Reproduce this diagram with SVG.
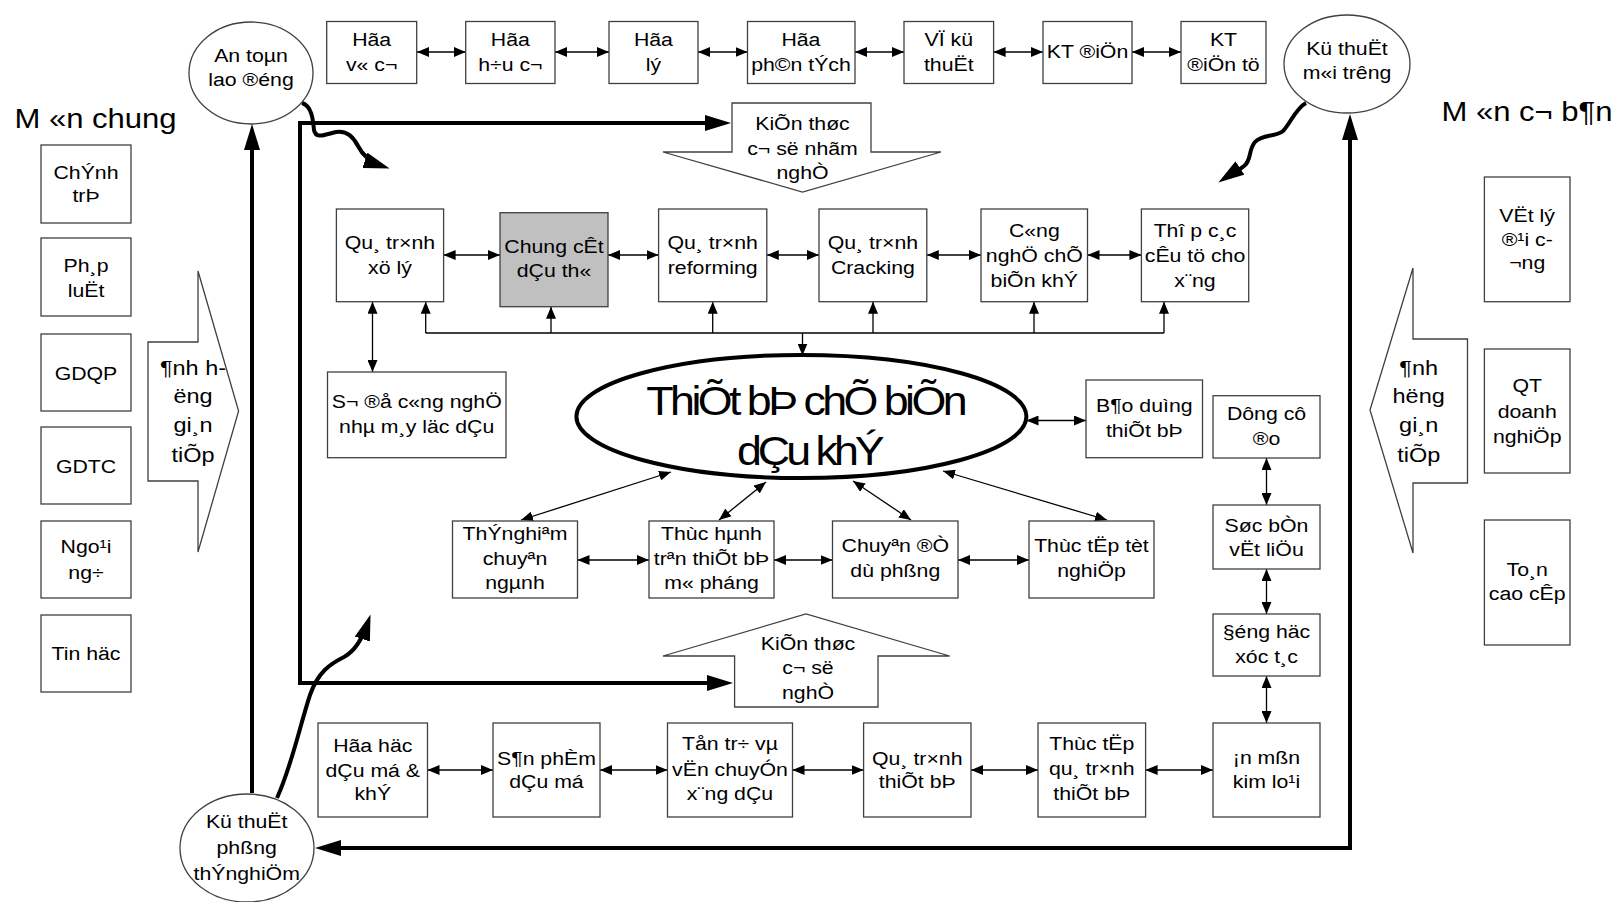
<svg xmlns="http://www.w3.org/2000/svg" width="1621" height="902" viewBox="0 0 1621 902">
<style>
.b{fill:#fff;stroke:#404040;stroke-width:1.3}
.g{fill:#c0c0c0;stroke:#404040;stroke-width:1.3}
.t{font-family:"Liberation Sans",Arial,sans-serif;font-size:19px;text-anchor:middle;fill:#000;transform-box:fill-box;transform-origin:center;transform:scale(1.12,1)}
.big{font-size:21px}
.ttl{font-size:27px;transform:scale(1.15,1)}
.el{font-size:40px}
.d{stroke:#000;stroke-width:1.3;fill:none;marker-start:url(#a);marker-end:url(#a)}
.s{stroke:#000;stroke-width:1.3;fill:none;marker-end:url(#a)}
.p{stroke:#000;stroke-width:1.3;fill:none}
.k2{stroke:#000;stroke-width:4;fill:none;marker-start:url(#A);marker-end:url(#A)}
.k1{stroke:#000;stroke-width:4;fill:none;marker-end:url(#A)}
</style>
<defs>
<marker id="a" viewBox="0 0 12 10" refX="12" refY="5" markerWidth="12" markerHeight="10" markerUnits="userSpaceOnUse" orient="auto-start-reverse"><path d="M0,0 L12,5 L0,10 z" fill="#000"/></marker>
<marker id="A" viewBox="0 0 26 16" refX="18" refY="8" markerWidth="26" markerHeight="16" markerUnits="userSpaceOnUse" orient="auto-start-reverse"><path d="M0,0 L26,8 L0,16 z" fill="#000"/></marker>
</defs>
<rect width="1621" height="902" fill="#fff"/>

<g id="titles">
<text class="t ttl" x="95.5" y="128">M «n chung</text>
<text class="t ttl" x="1527" y="121">M «n c¬ b¶n</text>
</g>

<g id="connectors">
<path class="d" d="M417,52 H465.7"/>
<path class="d" d="M555,52 H609"/>
<path class="d" d="M698,52 H747.5"/>
<path class="d" d="M855,52 H904"/>
<path class="d" d="M993.6,52 H1043"/>
<path class="d" d="M1132,52 H1181"/>
<path class="d" d="M443.6,255 H500"/>
<path class="d" d="M608,255 H658.6"/>
<path class="d" d="M766.8,255 H819"/>
<path class="d" d="M926.8,255 H981"/>
<path class="d" d="M1087.5,255 H1141.4"/>
<path class="d" d="M372.5,301.7 V372"/>
<path class="p" d="M425.7,333 H1164"/>
<path class="s" d="M425.7,333 V301.7"/>
<path class="s" d="M551,333 V306.7"/>
<path class="s" d="M712.7,333 V301.7"/>
<path class="s" d="M873,333 V301.7"/>
<path class="s" d="M1034,333 V301.7"/>
<path class="s" d="M1164,333 V301.7"/>
<path class="s" d="M802.5,333 V355.5"/>
<path class="d" d="M1026.5,420.5 H1086"/>
<path class="d" d="M671,472 L521,520"/>
<path class="d" d="M766,482 L719,520"/>
<path class="d" d="M853,481 L911,520"/>
<path class="d" d="M943,471 L1107,520"/>
<path class="d" d="M577.5,560 H649"/>
<path class="d" d="M774,560 H832.5"/>
<path class="d" d="M958,560 H1029"/>
<path class="d" d="M1266.5,458 V505"/>
<path class="d" d="M1266.5,569 V614"/>
<path class="d" d="M1266.5,676 V723"/>
<path class="d" d="M427.5,770 H493"/>
<path class="d" d="M600,770 H667.5"/>
<path class="d" d="M792.5,770 H863.6"/>
<path class="d" d="M971,770 H1038"/>
<path class="d" d="M1145.6,770 H1213"/>
<path class="k2" d="M723,123 H300 V683 H725"/>
<path class="k1" d="M252,793 V132"/>
<path class="k2" d="M1350,122 V848 H323"/>
<path class="k1" d="M302,103 C312,106 313,120 314,130 C316,140 326,134 336,132 C348,130 354,138 358,146 C362,154 370,162 382,166"/>
<path class="k1" d="M1306,103 C1296,108 1290,124 1283,131 C1276,137 1262,134 1255,142 C1248,150 1252,160 1244,166 C1238,171 1231,174 1225,178"/>
<path class="k1" d="M277,798 C292,765 300,725 310,695 C318,672 330,664 344,657 C355,651 362,640 368,622"/>
</g>

<g id="an-toan"><ellipse class="b" cx="251" cy="73" rx="62" ry="51"/>
<text class="t" x="251" y="62">An toµn</text><text class="t" x="251" y="86">lao ®éng</text></g>
<g id="kt-moi-truong"><ellipse class="b" cx="1347" cy="64" rx="63" ry="49"/>
<text class="t" x="1347" y="55">Kü thuËt</text><text class="t" x="1347" y="79">m«i trêng</text></g>
<g id="kt-phong-tn"><ellipse class="b" cx="247" cy="848" rx="67" ry="54"/>
<text class="t" x="246.7" y="828">Kü thuËt</text><text class="t" x="246.7" y="854">phßng</text><text class="t" x="246.7" y="880">thÝnghiÖm</text></g>

<g id="hoa-vo-co"><rect class="b" x="326.7" y="21.5" width="90" height="62"/>
<text class="t" x="371.7" y="46">Hãa</text><text class="t" x="371.7" y="71">v« c¬</text></g>
<g id="hoa-huu-co"><rect class="b" x="465.7" y="21.5" width="89.3" height="62"/>
<text class="t" x="510.4" y="46">Hãa</text><text class="t" x="510.4" y="71">h÷u c¬</text></g>
<g id="hoa-ly"><rect class="b" x="609" y="21.5" width="89" height="62"/>
<text class="t" x="653.5" y="46">Hãa</text><text class="t" x="653.5" y="71">lý</text></g>
<g id="hoa-phan-tich"><rect class="b" x="747.5" y="21.5" width="107.5" height="62"/>
<text class="t" x="801" y="46">Hãa</text><text class="t" x="801" y="71">ph©n tÝch</text></g>
<g id="ve-ky-thuat"><rect class="b" x="904" y="21.5" width="89.6" height="62"/>
<text class="t" x="948.8" y="46">VÏ kü</text><text class="t" x="948.8" y="71">thuËt</text></g>
<g id="kt-dien"><rect class="b" x="1043" y="21.5" width="89" height="62"/>
<text class="t" x="1087.5" y="58">KT ®iÖn</text></g>
<g id="kt-dien-tu"><rect class="b" x="1181" y="21.5" width="85" height="62"/>
<text class="t" x="1223.5" y="46">KT</text><text class="t" x="1223.5" y="71">®iÖn tö</text></g>

<g id="kien-thuc-nhom"><path class="b" d="M732,103 H871 V152 H941 L802.5,192 L663,152 H732 Z"/>
<text class="t" x="802.5" y="130">KiÕn thøc</text><text class="t" x="802.5" y="155">c¬ së nhãm</text><text class="t" x="802.5" y="179">nghÒ</text></g>
<g id="kien-thuc-nghe"><path class="b" d="M734.6,707 H878 V656 H949.6 L806,614 L663,656 H734.6 Z"/>
<text class="t" x="808" y="650">KiÕn thøc</text><text class="t" x="808" y="674">c¬ së</text><text class="t" x="808" y="699">nghÒ</text></g>

<g id="chinh-tri"><rect class="b" x="41" y="145" width="90" height="78"/>
<text class="t" x="86" y="179">ChÝnh</text><text class="t" x="86" y="202">trÞ</text></g>
<g id="phap-luat"><rect class="b" x="41" y="238" width="90" height="78"/>
<text class="t" x="86" y="272">Ph¸p</text><text class="t" x="86" y="297">luËt</text></g>
<g id="gdqp"><rect class="b" x="41" y="334" width="90" height="77"/>
<text class="t" x="86" y="380">GDQP</text></g>
<g id="gdtc"><rect class="b" x="41" y="427" width="90" height="77"/>
<text class="t" x="86" y="473">GDTC</text></g>
<g id="ngoai-ngu"><rect class="b" x="41" y="521" width="90" height="77"/>
<text class="t" x="86" y="553">Ngo¹i</text><text class="t" x="86" y="579">ng÷</text></g>
<g id="tin-hoc"><rect class="b" x="41" y="615" width="90" height="77"/>
<text class="t" x="86" y="660">Tin häc</text></g>

<g id="anh-huong-trai"><path class="b" d="M148,342 H198 V271 L238.6,411 L198,552 V481 H148 Z"/>
<text class="t big" x="193" y="375">¶nh h-</text><text class="t big" x="193" y="403">ëng</text><text class="t big" x="193" y="432">gi¸n</text><text class="t big" x="193" y="462">tiÕp</text></g>
<g id="anh-huong-phai"><path class="b" d="M1467.5,339 H1413 V268 L1370,410 L1413,553 V483 H1467.5 Z"/>
<text class="t big" x="1418.7" y="375">¶nh</text><text class="t big" x="1418.7" y="403">hëng</text><text class="t big" x="1418.7" y="432">gi¸n</text><text class="t big" x="1418.7" y="462">tiÕp</text></g>

<g id="qt-xu-ly"><rect class="b" x="336.4" y="209" width="107.2" height="92.7"/>
<text class="t" x="390" y="249">Qu¸ tr×nh</text><text class="t" x="390" y="274">xö lý</text></g>
<g id="chung-cat"><rect class="g" x="500" y="212.7" width="108" height="94"/>
<text class="t" x="554" y="253">Chung cÊt</text><text class="t" x="554" y="277">dÇu th«</text></g>
<g id="reforming"><rect class="b" x="658.6" y="209" width="108.2" height="92.7"/>
<text class="t" x="712.7" y="249">Qu¸ tr×nh</text><text class="t" x="712.7" y="274">reforming</text></g>
<g id="cracking"><rect class="b" x="819" y="209" width="107.8" height="92.7"/>
<text class="t" x="872.9" y="249">Qu¸ tr×nh</text><text class="t" x="872.9" y="274">Cracking</text></g>
<g id="cn-che-bien-khi"><rect class="b" x="981" y="209" width="106.5" height="92.7"/>
<text class="t" x="1034.3" y="237">C«ng</text><text class="t" x="1034.3" y="262">nghÖ chÕ</text><text class="t" x="1034.3" y="287">biÕn khÝ</text></g>
<g id="pha-tron"><rect class="b" x="1141.4" y="209" width="107.3" height="92.7"/>
<text class="t" x="1195" y="237">Thî p c¸c</text><text class="t" x="1195" y="262">cÊu tö cho</text><text class="t" x="1195" y="287">x¨ng</text></g>
<g id="so-do-cn"><rect class="b" x="327.5" y="372" width="178.5" height="85.7"/>
<text class="t" x="416.7" y="408">S¬ ®å c«ng nghÖ</text><text class="t" x="416.7" y="433">nhµ m¸y läc dÇu</text></g>

<g id="thiet-bi"><ellipse cx="801.4" cy="416.5" rx="225" ry="61.5" fill="#fff" stroke="#000" stroke-width="4"/>
<text class="t el" x="807" y="415" textLength="287" lengthAdjust="spacing">ThiÕt bÞ chÕ biÕn</text>
<text class="t el" x="810.8" y="465" textLength="132" lengthAdjust="spacing">dÇu khÝ</text></g>

<g id="bao-duong"><rect class="b" x="1086" y="380" width="116.5" height="77.7"/>
<text class="t" x="1144.3" y="412">B¶o duìng</text><text class="t" x="1144.3" y="437">thiÕt bÞ</text></g>
<g id="dung-cu-do"><rect class="b" x="1213" y="395.7" width="107" height="62.3"/>
<text class="t" x="1266.5" y="420">Dông cô</text><text class="t" x="1266.5" y="445">®o</text></g>
<g id="suc-ben"><rect class="b" x="1213" y="505" width="107" height="64"/>
<text class="t" x="1266.5" y="532">Søc bÒn</text><text class="t" x="1266.5" y="556">vËt liÖu</text></g>
<g id="dong-hoc"><rect class="b" x="1213" y="614" width="107" height="62"/>
<text class="t" x="1266.5" y="638">§éng häc</text><text class="t" x="1266.5" y="663">xóc t¸c</text></g>
<g id="an-mon"><rect class="b" x="1213" y="723" width="107" height="94"/>
<text class="t" x="1266.5" y="764">¡n mßn</text><text class="t" x="1266.5" y="788">kim lo¹i</text></g>

<g id="thi-nghiem-cn"><rect class="b" x="452.5" y="521" width="125" height="77"/>
<text class="t" x="515" y="540">ThÝnghiªm</text><text class="t" x="515" y="565">chuyªn</text><text class="t" x="515" y="589">ngµnh</text></g>
<g id="thuc-hanh"><rect class="b" x="649" y="521" width="125" height="77"/>
<text class="t" x="711.5" y="540">Thùc hµnh</text><text class="t" x="711.5" y="565">trªn thiÕt bÞ</text><text class="t" x="711.5" y="589">m« pháng</text></g>
<g id="chuyen-de"><rect class="b" x="832.5" y="521" width="125.5" height="77"/>
<text class="t" x="895.3" y="552">Chuyªn ®Ò</text><text class="t" x="895.3" y="577">dù phßng</text></g>
<g id="thuc-tap-tn"><rect class="b" x="1029" y="521" width="125" height="77"/>
<text class="t" x="1091.5" y="552">Thùc tËp tèt</text><text class="t" x="1091.5" y="577">nghiÖp</text></g>

<g id="hoa-hoc-dau"><rect class="b" x="318" y="723" width="109.5" height="94"/>
<text class="t" x="372.8" y="752">Hãa häc</text><text class="t" x="372.8" y="777">dÇu má &amp;</text><text class="t" x="372.8" y="800">khÝ</text></g>
<g id="san-pham"><rect class="b" x="493" y="723" width="107" height="94"/>
<text class="t" x="546.5" y="765">S¶n phÈm</text><text class="t" x="546.5" y="788">dÇu má</text></g>
<g id="ton-tru"><rect class="b" x="667.5" y="723" width="125" height="94"/>
<text class="t" x="730" y="750">Tån tr÷ vµ</text><text class="t" x="730" y="776">vËn chuyÓn</text><text class="t" x="730" y="800">x¨ng dÇu</text></g>
<g id="qt-thiet-bi"><rect class="b" x="863.6" y="723" width="107.4" height="94"/>
<text class="t" x="917.3" y="765">Qu¸ tr×nh</text><text class="t" x="917.3" y="788">thiÕt bÞ</text></g>
<g id="thuc-tap-qt"><rect class="b" x="1038" y="723" width="107.6" height="94"/>
<text class="t" x="1091.8" y="750">Thùc tËp</text><text class="t" x="1091.8" y="775">qu¸ tr×nh</text><text class="t" x="1091.8" y="800">thiÕt bÞ</text></g>

<g id="vat-ly"><rect class="b" x="1484.4" y="177" width="85.6" height="124.7"/>
<text class="t" x="1527.2" y="222">VËt lý</text><text class="t" x="1527.2" y="246">®¹i c-</text><text class="t" x="1527.2" y="269">¬ng</text></g>
<g id="qt-doanh-nghiep"><rect class="b" x="1484.4" y="349" width="85.6" height="124"/>
<text class="t" x="1527.2" y="392">QT</text><text class="t" x="1527.2" y="418">doanh</text><text class="t" x="1527.2" y="443">nghiÖp</text></g>
<g id="toan-cao-cap"><rect class="b" x="1484.4" y="520" width="85.6" height="125"/>
<text class="t" x="1527.2" y="576">To¸n</text><text class="t" x="1527.2" y="600">cao cÊp</text></g>
</svg>
